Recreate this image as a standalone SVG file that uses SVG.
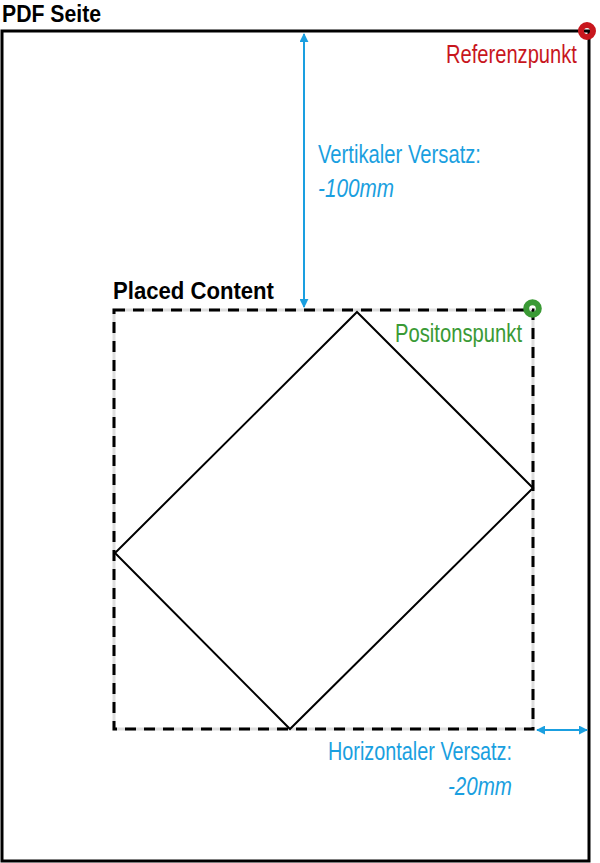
<svg xmlns="http://www.w3.org/2000/svg" width="600" height="863" viewBox="0 0 600 863">
<style>
text{font-family:"Liberation Sans",Arial,sans-serif;}
.b{font-weight:bold;font-size:24px;fill:#000;}
.l{font-size:25px;}
.blue{fill:#1a9fe0;}
.ar{stroke:#1a9fe0;stroke-width:2;fill:none;}
.pt{fill:none;stroke-width:6;}
</style>
<defs>
<marker id="ah" viewBox="0 0 10 10" refX="9" refY="5" markerWidth="9" markerHeight="9" orient="auto-start-reverse" markerUnits="userSpaceOnUse">
<path d="M0,0 L10,5 L0,10 z" fill="#1a9fe0"/>
</marker>
</defs>
<rect width="600" height="863" fill="#fff"/>
<g id="page">
<rect x="2" y="31" width="587" height="830" fill="none" stroke="#000" stroke-width="3"/>
<text class="b" x="2" y="22" textLength="99" lengthAdjust="spacingAndGlyphs">PDF Seite</text>
</g>
<g id="placed">
<rect x="114" y="310" width="419" height="419" fill="none" stroke="#ddd" stroke-width="3"/>
<rect x="114" y="310" width="419" height="419" fill="none" stroke="#000" stroke-width="3" stroke-dasharray="11,8"/>
<text class="b" x="113" y="299" textLength="161" lengthAdjust="spacingAndGlyphs">Placed Content</text>
</g>
<g id="diamond">
<polygon points="357,312 533,488 290,729 115,553" fill="none" stroke="#000" stroke-width="2"/>
</g>
<g id="referenzpunkt">
<circle class="pt" cx="587" cy="31" r="6" stroke="#c8161d"/>
<text class="l" transform="translate(446,63) scale(0.805,1)" x="0" y="0" fill="#c8161d">Referenzpunkt</text>
</g>
<g id="positionspunkt">
<circle class="pt" cx="532.5" cy="308.5" r="6.3" stroke="#3a9a35"/>
<text class="l" x="395" y="342" fill="#3a9a35" textLength="127" lengthAdjust="spacingAndGlyphs">Positonspunkt</text>
</g>
<g id="connectors">
<line class="ar" x1="304" y1="34" x2="304" y2="307" marker-start="url(#ah)" marker-end="url(#ah)"/>
<line class="ar" x1="537" y1="730" x2="587" y2="730" marker-start="url(#ah)" marker-end="url(#ah)"/>
</g>
<g id="labels">
<text class="l blue" x="318" y="163" textLength="163" lengthAdjust="spacingAndGlyphs">Vertikaler Versatz:</text>
<text class="l blue" x="318" y="197" font-style="italic" textLength="76" lengthAdjust="spacingAndGlyphs">-100mm</text>
<text class="l blue" x="328" y="760" textLength="184" lengthAdjust="spacingAndGlyphs">Horizontaler Versatz:</text>
<text class="l blue" x="448" y="795" font-style="italic" textLength="64" lengthAdjust="spacingAndGlyphs">-20mm</text>
</g>
</svg>
